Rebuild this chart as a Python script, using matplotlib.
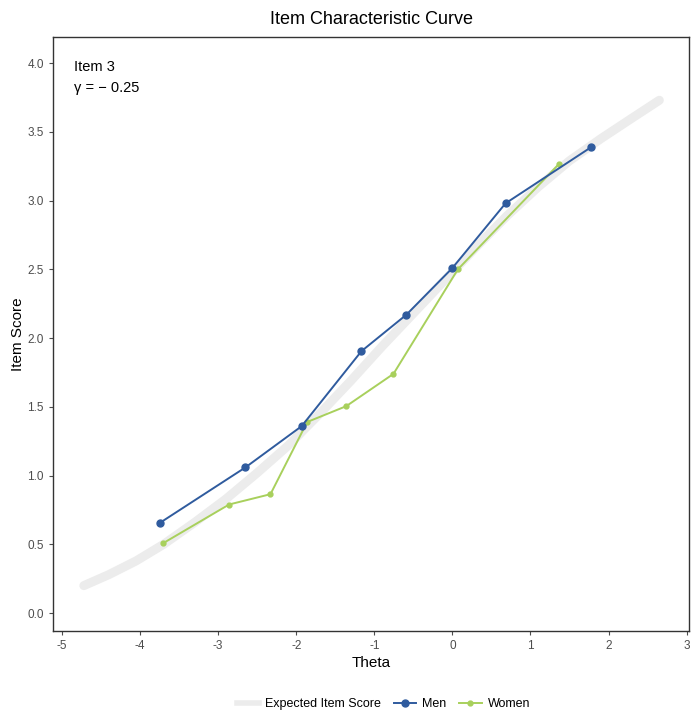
import matplotlib
matplotlib.use("Agg")
import matplotlib.pyplot as plt
from matplotlib.lines import Line2D

plt.rcParams['font.family'] = ['Liberation Sans', 'DejaVu Sans']

# Expected item score curve
exp_theta = [-4.72, -4.4, -4.05, -3.7, -3.3, -2.9, -2.5, -2.1, -1.7, -1.3, -0.9, -0.5, -0.1,
             0.3, 0.7, 1.1, 1.5, 1.9, 2.3, 2.65]
exp_score = [0.20, 0.28, 0.38, 0.50, 0.66, 0.83, 1.02, 1.22, 1.45, 1.69, 1.94, 2.18, 2.42,
             2.66, 2.89, 3.10, 3.29, 3.45, 3.60, 3.73]

men_theta = [-3.75, -2.65, -1.93, -1.165, -0.59, 0.0, 0.68, 1.78]
men_score = [0.655, 1.06, 1.36, 1.905, 2.17, 2.51, 2.98, 3.39]

women_theta = [-3.70, -2.86, -2.33, -1.86, -1.36, -0.755, 0.07, 1.37]
women_score = [0.51, 0.79, 0.865, 1.39, 1.505, 1.74, 2.50, 3.27]

xticks = [-5, -4, -3, -2, -1, 0, 1, 2, 3]
yticks = [0.0, 0.5, 1.0, 1.5, 2.0, 2.5, 3.0, 3.5, 4.0]

men_color = '#2f5b9e'
women_color = '#a8d05c'
exp_color = '#ececec'

fig = plt.figure(figsize=(6.91, 7.13), dpi=100)
ax = fig.add_axes([53/691, 1-631/713, (689-53)/691, (631-37)/713])

ax.plot(exp_theta, exp_score, color=exp_color, lw=6.5, solid_capstyle='round',
        solid_joinstyle='round', zorder=1)
ax.plot(men_theta, men_score, color=men_color, lw=1.4, marker='o', ms=5, zorder=3)
ax.plot(women_theta, women_score, color=women_color, lw=1.4, marker='o', ms=3.5, zorder=2)

ax.set_xlim(-5.115, 3.03)
ax.set_ylim(-0.13, 4.19)
ax.set_xticks(xticks)
ax.set_xticklabels([f"{t}" for t in xticks])
ax.set_yticks(yticks)
ax.set_yticklabels([f"{t:.1f}" for t in yticks])
ax.tick_params(colors='#4d4d4d', labelsize=8.5, length=3, width=0.8)
for lab in ax.get_xticklabels() + ax.get_yticklabels():
    lab.set_color('#4d4d4d')
for s in ax.spines.values():
    s.set_color('#333333')
    s.set_linewidth(1.0)

ax.set_xlabel('Theta', fontsize=11, color='black', labelpad=3)
ax.set_ylabel('Item Score', fontsize=11, color='black', labelpad=2)
ax.set_title('Item Characteristic Curve', fontsize=13, pad=9)

ax.text(-4.85, 3.97, 'Item 3', fontsize=10.5, va='center', ha='left')
ax.text(-4.85, 3.82, 'γ = − 0.25', fontsize=10.5, va='center', ha='left')

handles = [
    Line2D([], [], color=exp_color, lw=4),
    Line2D([], [], color=men_color, lw=1.4, marker='o', ms=5),
    Line2D([], [], color=women_color, lw=1.4, marker='o', ms=3.5),
]
fig.legend(handles, ['Expected Item Score', 'Men', 'Women'], loc='center',
           bbox_to_anchor=(0.555, 1-704/713), ncol=3, frameon=False, fontsize=9,
           handlelength=1.8, columnspacing=1.0, handletextpad=0.5)

fig.savefig('out.png', dpi=100)
